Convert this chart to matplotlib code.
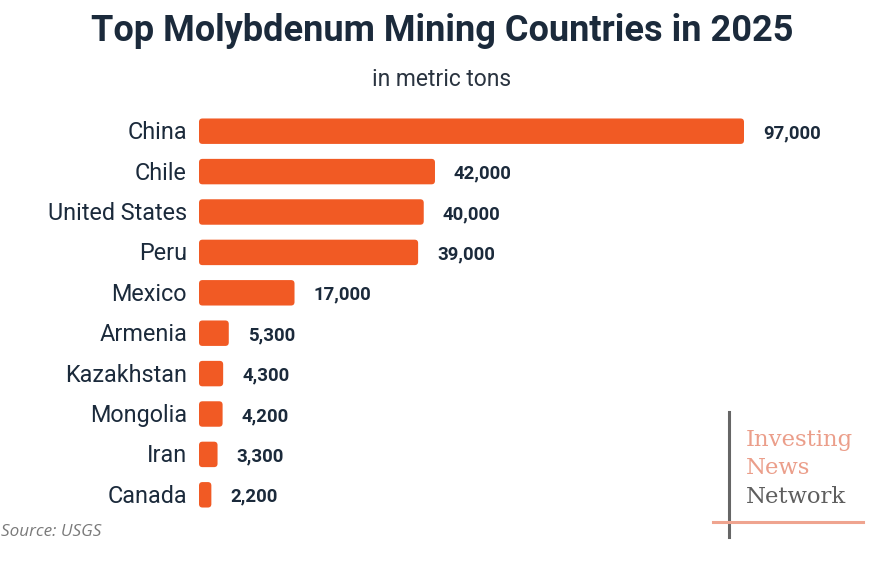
import matplotlib
matplotlib.use("Agg")
import matplotlib.pyplot as plt
from matplotlib.patches import FancyBboxPatch
from matplotlib.transforms import offset_copy
from matplotlib.lines import Line2D

countries = ["China", "Chile", "United States", "Peru", "Mexico", "Armenia",
             "Kazakhstan", "Mongolia", "Iran", "Canada"]
production = [97000, 42000, 40000, 39000, 17000, 5300, 4300, 4200, 3300, 2200]
value_labels = ["97,000", "42,000", "40,000", "39,000", "17,000", "5,300",
                "4,300", "4,200", "3,300", "2,200"]

title = "Top Molybdenum Mining Countries in 2025"
subtitle = "in metric tons"
source = "Source: USGS"

W, H = 869, 566
DPI = 100
BAR = "#F15A24"
NAVY = "#1B2A3B"
SALMON = "#EB9E8A"
GRAY = "#5E5E5E"

fig = plt.figure(figsize=(W / DPI, H / DPI), dpi=DPI)
fig.patch.set_facecolor("white")

ax_left, ax_top, ax_w, ax_h = 199, 111, 670, 404
ax = fig.add_axes([ax_left / W, 1 - (ax_top + ax_h) / H, ax_w / W, ax_h / H])
xmax = 97000 * ax_w / 545.0
ax.set_xlim(0, xmax)
ax.set_ylim(len(countries) - 0.5, -0.5)
ax.axis("off")

bar_h = 0.63
px_x = xmax / ax_w
px_y = len(countries) / ax_h
r_px = 3.5
for i, v in enumerate(production):
    p = FancyBboxPatch((0, i - bar_h / 2), v, bar_h,
                       boxstyle=f"round,pad=0,rounding_size={r_px * px_x}",
                       mutation_aspect=px_y / px_x,
                       facecolor=BAR, edgecolor="none")
    ax.add_patch(p)

lab_tr = offset_copy(ax.transData, fig=fig, x=-12, y=1, units="dots")
val_tr = offset_copy(ax.transData, fig=fig, x=19, y=0, units="dots")
for i, (c, v, vl) in enumerate(zip(countries, production, value_labels)):
    ax.text(0, i, c, transform=lab_tr, ha="right", va="center_baseline",
            fontsize=16.8, family="Roboto", color=NAVY)
    ax.text(v, i, vl, transform=val_tr, ha="left", va="center_baseline",
            fontsize=13.4, family="Roboto", fontweight="bold", color=NAVY)

fig.text(442 / W, 1 - 31 / H, title, ha="center", va="center",
         fontsize=26, family="Roboto", fontweight="bold", color=NAVY)
fig.text(442 / W, 1 - 79 / H, subtitle, ha="center", va="center",
         fontsize=16.5, family="Roboto", color="#2A3440")
fig.text(1 / W, 1 - 532 / H, source, ha="left", va="center",
         fontsize=12.3, family="Open Sans", style="italic", color="#7A7A7A")

# logo
fig.add_artist(Line2D([729 / W, 729 / W], [1 - 412 / H, 1 - 537 / H],
                      color="#666666", lw=2.2, transform=fig.transFigure))
fig.add_artist(Line2D([713 / W, 863 / W], [1 - 522 / H, 1 - 522 / H],
                      color="#EFA48F", lw=2.2, transform=fig.transFigure))
fig.text(746 / W, 1 - 446 / H, "Investing", ha="left", va="baseline",
         fontsize=16.4, family="DejaVu Serif", color=SALMON)
fig.text(746 / W, 1 - 474 / H, "News", ha="left", va="baseline",
         fontsize=16.4, family="DejaVu Serif", color=SALMON)
fig.text(746 / W, 1 - 503 / H, "Network", ha="left", va="baseline",
         fontsize=16.4, family="DejaVu Serif", color=GRAY)

fig.savefig("out.png", dpi=DPI, facecolor="white")
